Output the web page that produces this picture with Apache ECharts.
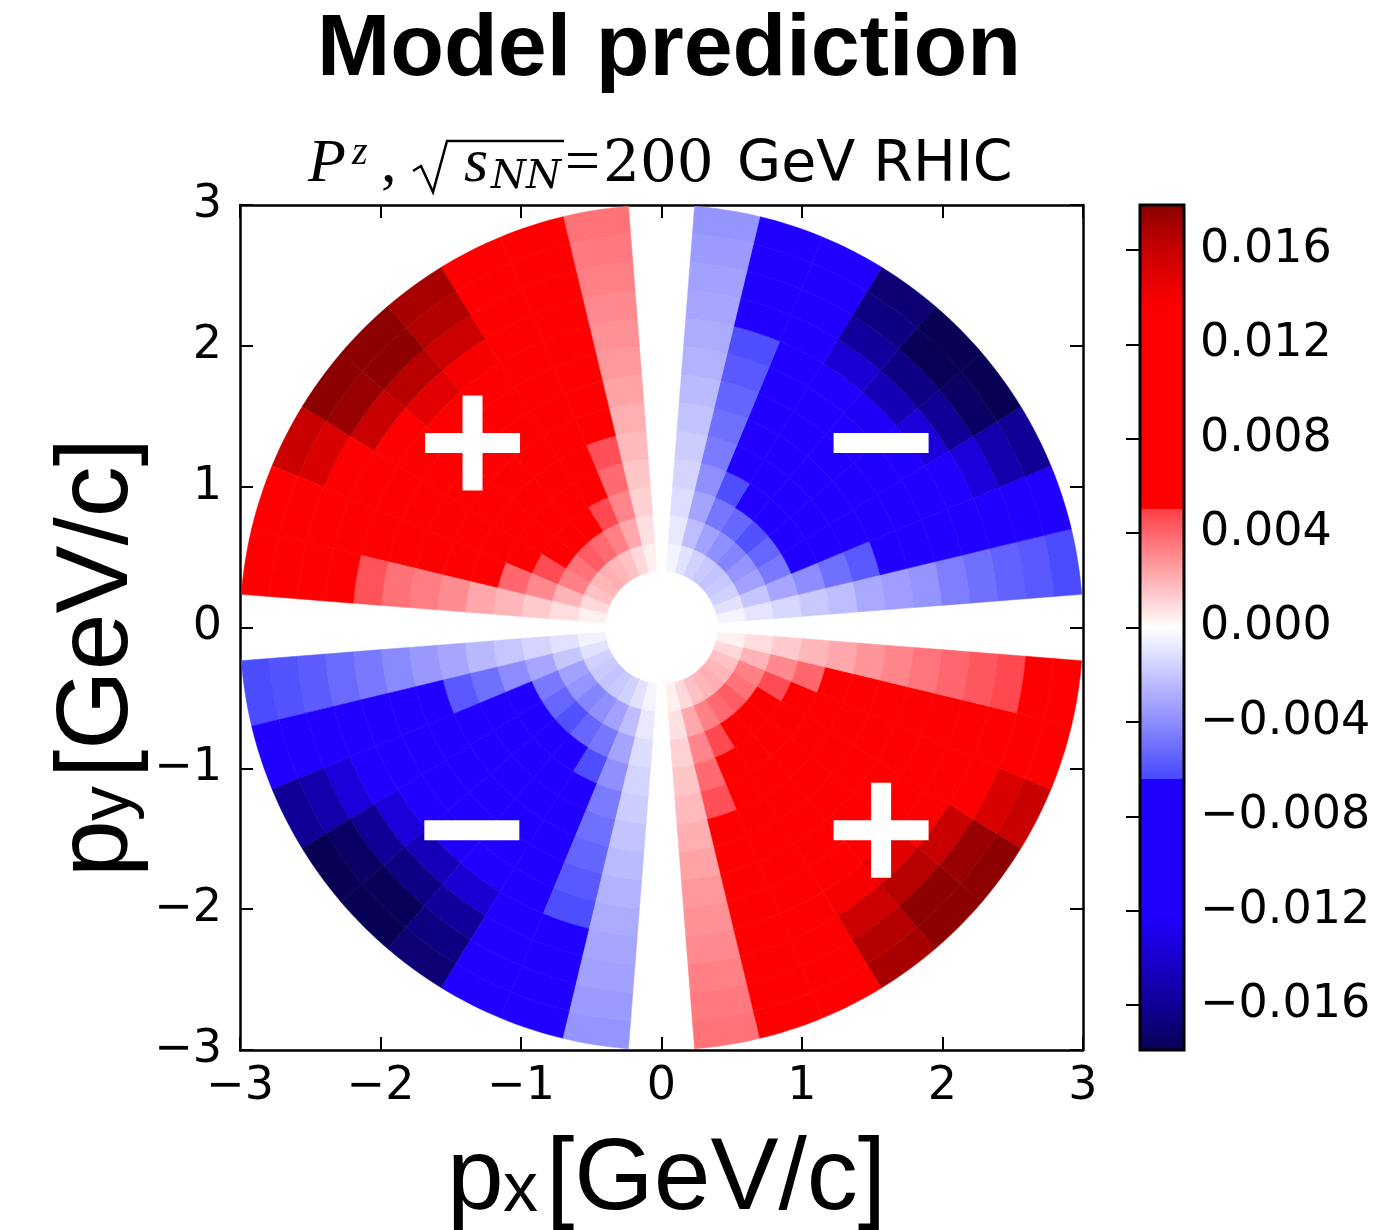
<!DOCTYPE html>
<html>
<head>
<meta charset="utf-8">
<title>Model prediction</title>
<script src="https://cdn.jsdelivr.net/npm/echarts@6/dist/echarts.min.js"></script>
<style>
  html, body { margin: 0; padding: 0; background: #ffffff; }
  #chart { width: 1374px; height: 1230px; }
</style>
</head>
<body>
<div id="chart"></div>
<script>
// ---- binning ----
// transverse-momentum rings (GeV/c)
const radialEdges = [0.4, 0.6, 0.8, 1.0, 1.2, 1.4, 1.6, 1.8, 2.0, 2.2, 2.4, 2.6, 2.8, 3.0];
// azimuthal bins are 9 degrees wide, centred on multiples of 9 degrees
const phiBinWidth = 9;
const phiCentersQ1 = [9, 18, 27, 36, 45, 54, 63, 72, 81];
const phiCentersQ2 = [99, 108, 117, 126, 135, 144, 153, 162, 171];
const phiCentersQ3 = [189, 198, 207, 216, 225, 234, 243, 252, 261];
const phiCentersQ4 = [279, 288, 297, 306, 315, 324, 333, 342, 351];

// ---- longitudinal polarization P^z, one row per azimuthal bin (inner ring -> outer ring) ----
const pzQ1 = [
  [-0.0004, -0.0009, -0.0014, -0.0019, -0.0023, -0.0030, -0.0034, -0.0037, -0.0045, -0.0050, -0.0055, -0.0058, -0.0063],
  [-0.0010, -0.0020, -0.0031, -0.0040, -0.0050, -0.0058, -0.0068, -0.0075, -0.0082, -0.0088, -0.0094, -0.0100, -0.0106],
  [-0.0016, -0.0033, -0.0047, -0.0066, -0.0075, -0.0083, -0.0091, -0.0099, -0.0107, -0.0118, -0.0135, -0.0152, -0.0160],
  [-0.0019, -0.0037, -0.0053, -0.0068, -0.0078, -0.0087, -0.0095, -0.0104, -0.0115, -0.0135, -0.0160, -0.0175, -0.0179],
  [-0.0021, -0.0043, -0.0061, -0.0072, -0.0080, -0.0088, -0.0097, -0.0108, -0.0125, -0.0148, -0.0165, -0.0178, -0.0179],
  [-0.0019, -0.0039, -0.0053, -0.0068, -0.0076, -0.0084, -0.0092, -0.0101, -0.0112, -0.0138, -0.0158, -0.0166, -0.0170],
  [-0.0016, -0.0033, -0.0048, -0.0062, -0.0068, -0.0074, -0.0080, -0.0086, -0.0092, -0.0098, -0.0104, -0.0110, -0.0116],
  [-0.0010, -0.0023, -0.0032, -0.0039, -0.0046, -0.0050, -0.0054, -0.0058, -0.0062, -0.0066, -0.0070, -0.0074, -0.0078],
  [-0.0004, -0.0008, -0.0012, -0.0015, -0.0018, -0.0021, -0.0024, -0.0027, -0.0029, -0.0031, -0.0033, -0.0035, -0.0037]
];
const pzQ2 = [
  [0.0004, 0.0008, 0.0012, 0.0015, 0.0018, 0.0021, 0.0024, 0.0027, 0.0029, 0.0031, 0.0033, 0.0035, 0.0037],
  [0.0010, 0.0023, 0.0032, 0.0039, 0.0046, 0.0050, 0.0054, 0.0058, 0.0062, 0.0066, 0.0070, 0.0074, 0.0078],
  [0.0016, 0.0033, 0.0048, 0.0062, 0.0068, 0.0074, 0.0080, 0.0086, 0.0092, 0.0098, 0.0104, 0.0110, 0.0116],
  [0.0019, 0.0039, 0.0053, 0.0068, 0.0076, 0.0084, 0.0092, 0.0101, 0.0112, 0.0138, 0.0158, 0.0166, 0.0170],
  [0.0021, 0.0043, 0.0061, 0.0072, 0.0080, 0.0088, 0.0097, 0.0108, 0.0125, 0.0148, 0.0165, 0.0178, 0.0179],
  [0.0019, 0.0037, 0.0053, 0.0068, 0.0078, 0.0087, 0.0095, 0.0104, 0.0115, 0.0135, 0.0160, 0.0175, 0.0179],
  [0.0016, 0.0033, 0.0047, 0.0066, 0.0075, 0.0083, 0.0091, 0.0099, 0.0107, 0.0118, 0.0135, 0.0152, 0.0160],
  [0.0010, 0.0020, 0.0031, 0.0040, 0.0050, 0.0058, 0.0068, 0.0075, 0.0082, 0.0088, 0.0094, 0.0100, 0.0106],
  [0.0004, 0.0009, 0.0014, 0.0019, 0.0023, 0.0030, 0.0034, 0.0037, 0.0045, 0.0050, 0.0055, 0.0058, 0.0063]
];
const pzQ3 = [
  [-0.0005, -0.0010, -0.0015, -0.0020, -0.0025, -0.0031, -0.0036, -0.0041, -0.0047, -0.0052, -0.0057, -0.0060, -0.0063],
  [-0.0010, -0.0020, -0.0031, -0.0040, -0.0050, -0.0058, -0.0068, -0.0075, -0.0082, -0.0088, -0.0094, -0.0100, -0.0106],
  [-0.0016, -0.0033, -0.0047, -0.0066, -0.0075, -0.0083, -0.0091, -0.0099, -0.0107, -0.0118, -0.0135, -0.0152, -0.0160],
  [-0.0019, -0.0037, -0.0053, -0.0068, -0.0078, -0.0087, -0.0095, -0.0104, -0.0115, -0.0135, -0.0160, -0.0175, -0.0179],
  [-0.0021, -0.0043, -0.0061, -0.0072, -0.0080, -0.0088, -0.0097, -0.0108, -0.0125, -0.0148, -0.0165, -0.0178, -0.0179],
  [-0.0019, -0.0039, -0.0053, -0.0068, -0.0076, -0.0084, -0.0092, -0.0101, -0.0112, -0.0138, -0.0158, -0.0166, -0.0170],
  [-0.0016, -0.0033, -0.0048, -0.0062, -0.0068, -0.0074, -0.0080, -0.0086, -0.0092, -0.0098, -0.0104, -0.0110, -0.0116],
  [-0.0010, -0.0023, -0.0032, -0.0039, -0.0046, -0.0050, -0.0054, -0.0058, -0.0062, -0.0066, -0.0070, -0.0074, -0.0078],
  [-0.0004, -0.0008, -0.0012, -0.0015, -0.0018, -0.0021, -0.0024, -0.0027, -0.0029, -0.0031, -0.0033, -0.0035, -0.0037]
];
const pzQ4 = [
  [0.0004, 0.0008, 0.0012, 0.0015, 0.0018, 0.0021, 0.0024, 0.0027, 0.0029, 0.0031, 0.0033, 0.0035, 0.0037],
  [0.0010, 0.0023, 0.0032, 0.0039, 0.0046, 0.0050, 0.0054, 0.0058, 0.0062, 0.0066, 0.0070, 0.0074, 0.0078],
  [0.0016, 0.0033, 0.0048, 0.0062, 0.0068, 0.0074, 0.0080, 0.0086, 0.0092, 0.0098, 0.0104, 0.0110, 0.0116],
  [0.0019, 0.0039, 0.0053, 0.0068, 0.0076, 0.0084, 0.0092, 0.0101, 0.0112, 0.0138, 0.0158, 0.0166, 0.0170],
  [0.0021, 0.0043, 0.0061, 0.0072, 0.0080, 0.0088, 0.0097, 0.0108, 0.0125, 0.0148, 0.0165, 0.0178, 0.0179],
  [0.0019, 0.0037, 0.0053, 0.0068, 0.0078, 0.0087, 0.0095, 0.0104, 0.0115, 0.0135, 0.0160, 0.0175, 0.0179],
  [0.0016, 0.0033, 0.0047, 0.0066, 0.0075, 0.0083, 0.0091, 0.0099, 0.0107, 0.0118, 0.0135, 0.0152, 0.0160],
  [0.0010, 0.0020, 0.0031, 0.0040, 0.0050, 0.0058, 0.0068, 0.0075, 0.0082, 0.0088, 0.0094, 0.0100, 0.0106],
  [0.0004, 0.0009, 0.0014, 0.0019, 0.0023, 0.0028, 0.0032, 0.0036, 0.0040, 0.0044, 0.0048, 0.0053, 0.0058]
];

// sign annotations placed in (px, py); +1 draws "+", -1 draws "−"
const signMarks = [
  [-1.345, 1.31, 1],
  [1.563, 1.31, -1],
  [-1.35, -1.44, -1],
  [1.563, -1.44, 1]
];

// colour scale range and colour-bar tick values
const vmin = -0.0179, vmax = 0.0179;
const colorbarTicks = [-0.016, -0.012, -0.008, -0.004, 0, 0.004, 0.008, 0.012, 0.016];

// diverging colour map: [value, r, g, b]; repeated values give a hard step
const cmapStops = [
  [-0.0179, 8, 0, 85],
  [-0.0160, 16, 0, 150],
  [-0.0122, 32, 0, 255],
  [-0.0064, 32, 0, 255],
  [-0.0064, 72, 72, 255],
  [0.0, 255, 255, 255],
  [0.0050, 255, 64, 72],
  [0.0050, 255, 0, 0],
  [0.0135, 255, 0, 0],
  [0.0160, 200, 0, 0],
  [0.0179, 140, 0, 0]
];

function rgbStr(r, g, b) { return 'rgb(' + Math.round(r) + ',' + Math.round(g) + ',' + Math.round(b) + ')'; }
function cmapColor(v) {
  if (v <= cmapStops[0][0]) { const s = cmapStops[0]; return rgbStr(s[1], s[2], s[3]); }
  for (let k = 1; k < cmapStops.length; k++) {
    const a = cmapStops[k - 1], b = cmapStops[k];
    if (b[0] > a[0] && v <= b[0]) {
      const t = (v - a[0]) / (b[0] - a[0]);
      return rgbStr(a[1] + (b[1] - a[1]) * t, a[2] + (b[2] - a[2]) * t, a[3] + (b[3] - a[3]) * t);
    }
  }
  const s = cmapStops[cmapStops.length - 1];
  return rgbStr(s[1], s[2], s[3]);
}

// evenly sampled palette for the continuous visual map
const paletteSteps = 358;
const palette = [];
for (let k = 0; k <= paletteSteps; k++) palette.push(cmapColor(vmin + (vmax - vmin) * k / paletteSteps));

// gradient stops for the colour bar (offset 0 = top = vmax)
const colorbarStops = cmapStops.slice().reverse().map(function (s) {
  return { offset: (vmax - s[0]) / (vmax - vmin), color: rgbStr(s[1], s[2], s[3]) };
});

// ---- polar cells: [rInner, rOuter, phiStart, phiEnd, Pz] ----
const cells = [];
function addQuadrant(centers, table) {
  centers.forEach(function (c, j) {
    table[j].forEach(function (v, i) {
      cells.push([radialEdges[i], radialEdges[i + 1], c - phiBinWidth / 2, c + phiBinWidth / 2, v]);
    });
  });
}
addQuadrant(phiCentersQ1, pzQ1);
addQuadrant(phiCentersQ2, pzQ2);
addQuadrant(phiCentersQ3, pzQ3);
addQuadrant(phiCentersQ4, pzQ4);

function renderCell(params, api) {
  const r0 = api.value(0), r1 = api.value(1);
  const a0 = api.value(2) * Math.PI / 180, a1 = api.value(3) * Math.PI / 180;
  const steps = 8;
  const pts = [];
  for (let k = 0; k <= steps; k++) {
    const a = a0 + (a1 - a0) * k / steps;
    pts.push(api.coord([r1 * Math.cos(a), r1 * Math.sin(a)]));
  }
  for (let k = steps; k >= 0; k--) {
    const a = a0 + (a1 - a0) * k / steps;
    pts.push(api.coord([r0 * Math.cos(a), r0 * Math.sin(a)]));
  }
  const c = api.visual('color');
  return { type: 'polygon', shape: { points: pts }, style: { fill: c, stroke: c, lineWidth: 0.5 } };
}

function renderSign(params, api) {
  const p = api.coord([api.value(0), api.value(1)]);
  const L = 95, T = 20;
  const children = [{ type: 'rect', shape: { x: p[0] - L / 2, y: p[1] - T / 2, width: L, height: T }, style: { fill: '#ffffff' } }];
  if (api.value(2) > 0) {
    children.push({ type: 'rect', shape: { x: p[0] - T / 2, y: p[1] - L / 2, width: T, height: L }, style: { fill: '#ffffff' } });
  }
  return { type: 'group', children: children };
}

function renderColorbar(params, api) {
  const top = api.coord([0, api.value(1)]);
  const bot = api.coord([1, api.value(0)]);
  const shape = { x: top[0], y: top[1], width: bot[0] - top[0], height: bot[1] - top[1] };
  return {
    type: 'group',
    children: [
      { type: 'rect', shape: shape, style: { fill: new echarts.graphic.LinearGradient(0, 0, 0, 1, colorbarStops) } },
      { type: 'rect', shape: shape, style: { fill: 'none', stroke: '#000000', lineWidth: 3 } }
    ]
  };
}

const minus = '\u2212';
function axisFmt(v) { return v < 0 ? minus + String(-v) : String(v); }
function cbFmt(v) { return (v < -1e-12 ? minus : '') + Math.abs(v).toFixed(3); }

const tickFont = { fontFamily: 'DejaVu Sans', fontSize: 46, color: '#000000' };
const frameLine = { show: true, onZero: false, lineStyle: { color: '#000000', width: 2.5 } };
const innerTick = { show: true, inside: true, length: 13, lineStyle: { color: '#000000', width: 2 } };

const serif = 'Liberation Serif';
const sans = 'Liberation Sans';
function txt(text, x, y, size, family, extra) {
  const style = Object.assign({ text: text, fontSize: size, fontFamily: family, fill: '#000000', align: 'left', verticalAlign: 'middle' }, extra || {});
  return { type: 'text', x: x, y: y, style: style };
}

const chart = echarts.init(document.getElementById('chart'), null, { renderer: 'canvas' });
chart.setOption({
  animation: false,
  backgroundColor: '#ffffff',
  grid: [
    { left: 240, right: 291, top: 205, bottom: 180 },
    { left: 1140, right: 190, top: 205, bottom: 180 }
  ],
  xAxis: [
    { gridIndex: 0, type: 'value', min: -3, max: 3, interval: 1, position: 'bottom',
      axisLine: frameLine, axisTick: innerTick, splitLine: { show: false },
      axisLabel: Object.assign({ margin: 14, formatter: axisFmt }, tickFont) },
    { gridIndex: 0, type: 'value', min: -3, max: 3, interval: 1, position: 'top',
      axisLine: frameLine, axisTick: innerTick, splitLine: { show: false }, axisLabel: { show: false } },
    { gridIndex: 1, type: 'value', min: 0, max: 1, show: false }
  ],
  yAxis: [
    { gridIndex: 0, type: 'value', min: -3, max: 3, interval: 1, position: 'left',
      axisLine: frameLine, axisTick: innerTick, splitLine: { show: false },
      axisLabel: Object.assign({ margin: 18, formatter: axisFmt }, tickFont) },
    { gridIndex: 0, type: 'value', min: -3, max: 3, interval: 1, position: 'right',
      axisLine: frameLine, axisTick: innerTick, splitLine: { show: false }, axisLabel: { show: false } },
    { gridIndex: 1, type: 'value', min: vmin, max: vmax, position: 'right', z: 10,
      axisLine: { show: false }, splitLine: { show: false },
      axisTick: { show: true, inside: true, length: 14, customValues: colorbarTicks, lineStyle: { color: '#000000', width: 2 } },
      axisLabel: Object.assign({ margin: 16, customValues: colorbarTicks, formatter: cbFmt }, tickFont) }
  ],
  visualMap: [{
    type: 'continuous', show: false, seriesIndex: 0, dimension: 4,
    min: vmin, max: vmax, inRange: { color: palette }
  }],
  series: [
    { type: 'custom', name: 'Pz', xAxisIndex: 0, yAxisIndex: 0, dimensions: ['rIn', 'rOut', 'phiStart', 'phiEnd', 'Pz'],
      encode: { x: 0, y: 1 }, renderItem: renderCell, data: cells, silent: true },
    { type: 'custom', name: 'signs', xAxisIndex: 0, yAxisIndex: 0, z: 4, renderItem: renderSign, data: signMarks, silent: true },
    { type: 'custom', name: 'colorbar', xAxisIndex: 2, yAxisIndex: 2, renderItem: renderColorbar, data: [[vmin, vmax]],
      encode: { x: -1, y: [0, 1] }, silent: true }
  ],
  graphic: [
    // main heading
    { type: 'text', x: 669, y: 51, style: { text: 'Model prediction', fontSize: 88, fontWeight: 'bold', fontFamily: sans, fill: '#000000', align: 'center', verticalAlign: 'middle' } },
    // subtitle: P^z, sqrt(s_NN) = 200 GeV RHIC
    txt('P', 308, 165, 62, serif, { fontStyle: 'italic' }),
    txt('z', 352, 153, 40, serif, { fontStyle: 'italic' }),
    txt(',', 381, 165, 62, serif),
    { type: 'polyline', shape: { points: [[413, 171], [421, 166], [433, 192], [447, 141], [564, 141]] },
      style: { stroke: '#000000', lineWidth: 2.5, fill: 'none', lineJoin: 'miter' } },
    txt('s', 464, 165, 62, serif, { fontStyle: 'italic' }),
    txt('NN', 491, 178, 40, 'DejaVu Serif', { fontStyle: 'italic' }),
    txt('=', 565, 165, 62, serif),
    txt('200', 603, 166, 58, 'DejaVu Serif'),
    txt('GeV RHIC', 737, 166, 57, 'DejaVu Sans'),
    // x axis title
    { type: 'group', x: 447, y: 1212, children: [
      txt('p', 0, -31, 102, sans),
      txt('x', 56, -20, 70, sans),
      txt('[GeV/c]', 99, -31, 102, sans)
    ] },
    // y axis title (rotated, reading upwards)
    { type: 'group', x: 130, y: 877, rotation: Math.PI / 2, children: [
      txt('p', 0, -31, 102, sans),
      txt('y', 56, -20, 70, sans),
      txt('[GeV/c]', 99, -31, 102, sans)
    ] }
  ]
});
</script>
</body>
</html>
